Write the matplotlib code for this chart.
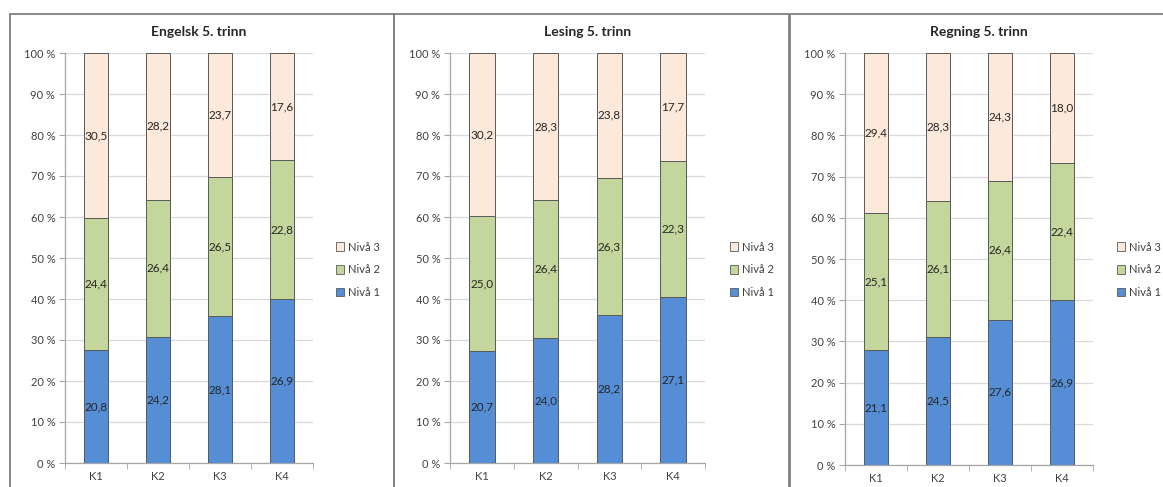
import matplotlib.pyplot as plt
from matplotlib.patches import Rectangle, Patch
import numpy as np

plt.rcParams['font.family'] = ['Lato', 'DejaVu Sans']

categories = ['K1', 'K2', 'K3', 'K4']
series_names = ['Nivå 1', 'Nivå 2', 'Nivå 3']
colors = ['#558ed5', '#c3d69b', '#fde9d9']

titles = ['Engelsk 5. trinn', 'Lesing 5. trinn', 'Regning 5. trinn']

engelsk_n1 = [20.8, 24.2, 28.1, 26.9]
engelsk_n2 = [24.4, 26.4, 26.5, 22.8]
engelsk_n3 = [30.5, 28.2, 23.7, 17.6]

lesing_n1 = [20.7, 24.0, 28.2, 27.1]
lesing_n2 = [25.0, 26.4, 26.3, 22.3]
lesing_n3 = [30.2, 28.3, 23.8, 17.7]

regning_n1 = [21.1, 24.5, 27.6, 26.9]
regning_n2 = [25.1, 26.1, 26.4, 22.4]
regning_n3 = [29.4, 28.3, 24.3, 18.0]

panels = [
    (engelsk_n1, engelsk_n2, engelsk_n3),
    (lesing_n1, lesing_n2, lesing_n3),
    (regning_n1, regning_n2, regning_n3),
]

W, H = 1163, 487
fig = plt.figure(figsize=(W / 100, H / 100), dpi=100)

# pixel geometry: (axis left, axis right, y of 0 %, y of 100 %), frame (x0, x1), legend x
axes_px = [(65, 313, 463, 53), (450, 705, 463, 53), (845, 1093, 465, 53)]
frames_px = [(10, 394), (394, 789), (790, 1175)]
legend_px = [330, 724, 1111]


def fx(x):
    return x / W


def fy(y):
    return 1 - y / H


for x0, x1 in frames_px:
    fig.patches.append(Rectangle((fx(x0), fy(500)), fx(x1 - x0), fy(14) - fy(500),
                                 transform=fig.transFigure, fill=False,
                                 edgecolor='#808080', linewidth=1.3))

grid_col = '#d9d9d9'
axis_col = '#a6a6a6'

for i, (vals, (l, r, b, t)) in enumerate(zip(panels, axes_px)):
    ax = fig.add_axes([fx(l), fy(b), fx(r - l), fy(t) - fy(b)])
    data = np.array(vals, dtype=float)
    totals = data.sum(axis=0)
    pct = data / totals * 100
    x = np.arange(len(categories))
    bottom = np.zeros(len(categories))
    for k in range(3):
        ax.bar(x, pct[k], 0.4, bottom=bottom, color=colors[k],
               edgecolor='#595959', linewidth=0.7, zorder=3)
        for j in range(len(categories)):
            label = f'{data[k][j]:.1f}'.replace('.', ',')
            ax.text(x[j], bottom[j] + pct[k][j] / 2, label, ha='center', va='center',
                    fontsize=8.5, color='#262626', zorder=4)
        bottom += pct[k]

    ax.set_xlim(-0.5, len(categories) - 0.5)
    ax.set_ylim(0, 100)
    ax.set_yticks(np.arange(0, 101, 10))
    ax.set_yticklabels([f'{v} %' for v in range(0, 101, 10)])
    ax.yaxis.grid(True, color=grid_col, linewidth=0.9, zorder=0)
    ax.set_xticks(x)
    ax.set_xticklabels(categories)
    ax.set_xticks(np.arange(-0.5, len(categories)), minor=True)
    ax.tick_params(axis='x', which='major', length=0, pad=6, labelsize=8, labelcolor='#404040')
    ax.tick_params(axis='x', which='minor', length=4, color=axis_col, direction='out')
    ax.tick_params(axis='y', length=4, color=axis_col, labelsize=8, labelcolor='#404040', pad=3)
    for s in ['top', 'right']:
        ax.spines[s].set_visible(False)
    for s in ['left', 'bottom']:
        ax.spines[s].set_color(axis_col)
        ax.spines[s].set_linewidth(0.9)

    fig.text(fx((l + r) / 2 + 10), fy(32), titles[i], ha='center', va='center',
             fontsize=10, fontweight='bold', color='#262626')

    handles = [Patch(facecolor=colors[k], edgecolor='#595959', linewidth=0.6,
                     label=series_names[k]) for k in (2, 1, 0)]
    fig.legend(handles=handles, loc='upper left',
               bbox_to_anchor=(fx(legend_px[i]), fy(236)), frameon=False,
               fontsize=8, handlelength=0.8, handleheight=0.8, handletextpad=0.3,
               labelspacing=1.05, borderpad=0, labelcolor='#404040')

fig.savefig('out.png', dpi=100)
